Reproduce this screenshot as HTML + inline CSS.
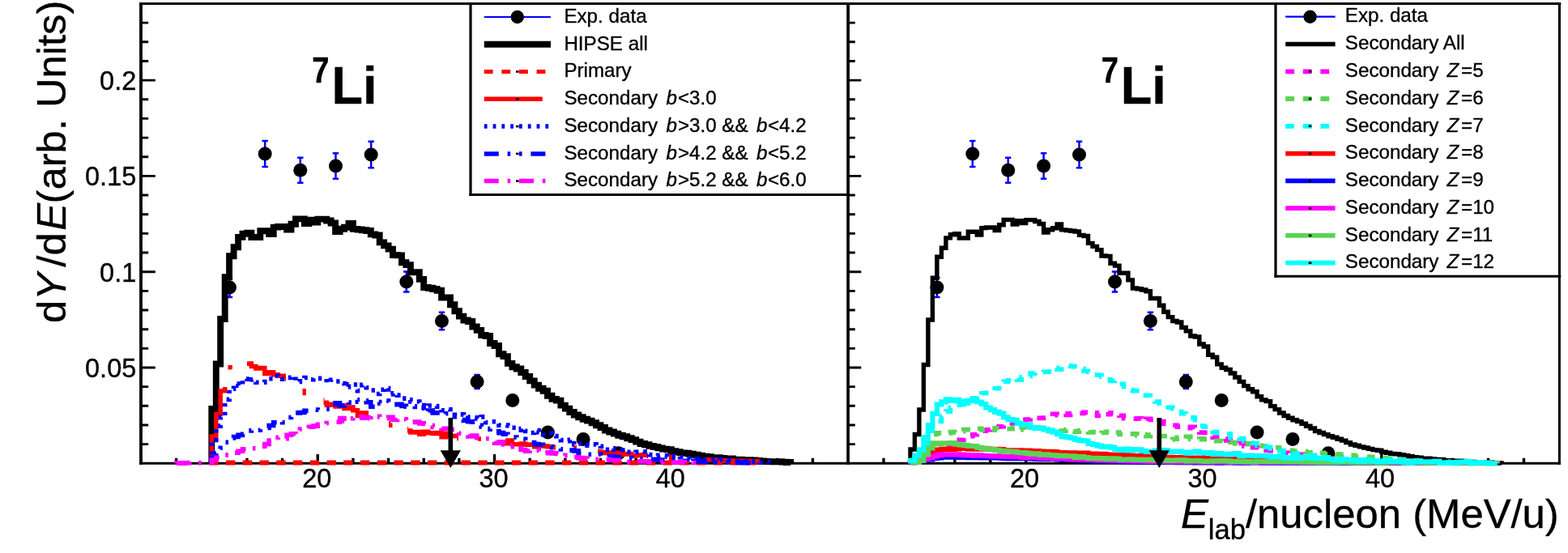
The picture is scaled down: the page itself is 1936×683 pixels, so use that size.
<!DOCTYPE html>
<html lang="en"><head><meta charset="utf-8"><title>7Li energy spectra</title>
<style>html,body{margin:0;padding:0;background:#fff;}svg{display:block;}</style></head>
<body>
<svg width="1936" height="683" viewBox="0 0 1936 683" font-family="&quot;Liberation Sans&quot;, Arial, Helvetica, sans-serif" fill="#000">
<style>text{stroke:#000;stroke-width:0.35px;stroke-linejoin:round}</style>
<rect x="0" y="0" width="1936" height="683" fill="#fff"/>
<g id="frames" fill="none" stroke="#000">
<path d="M172.1,4.5H1926.9M172.1,572.3H1926.9" stroke-width="3"/>
<path d="M174.0,3.0V573.8" stroke-width="3.8"/>
<path d="M1047.1,3.0V573.8" stroke-width="3.7"/>
<path d="M1925.4,3.0V573.8" stroke-width="3"/>
</g>
<g id="ticks">
<path d="M217.66,572.3v-6.6M261.31,572.3v-6.6M304.96,572.3v-6.6M348.62,572.3v-6.6M392.27,572.3v-11.3M435.93,572.3v-6.6M479.58,572.3v-6.6M523.24,572.3v-6.6M566.89,572.3v-6.6M610.55,572.3v-11.3M654.20,572.3v-6.6M697.86,572.3v-6.6M741.51,572.3v-6.6M785.17,572.3v-6.6M828.82,572.3v-11.3M872.48,572.3v-6.6M916.13,572.3v-6.6M959.79,572.3v-6.6M1003.44,572.3v-6.6" stroke="#000" stroke-width="3.4" fill="none"/>
<path d="M174.0,548.64h9.2M174.0,524.98h9.2M174.0,501.32h9.2M174.0,477.66h9.2M174.0,454.00h17.8M174.0,430.34h9.2M174.0,406.68h9.2M174.0,383.02h9.2M174.0,359.36h9.2M174.0,335.70h17.8M174.0,312.04h9.2M174.0,288.38h9.2M174.0,264.72h9.2M174.0,241.06h9.2M174.0,217.40h17.8M174.0,193.74h9.2M174.0,170.08h9.2M174.0,146.42h9.2M174.0,122.76h9.2M174.0,99.10h17.8M174.0,75.44h9.2M174.0,51.78h9.2M174.0,28.12h9.2" stroke="#000" stroke-width="2.9" fill="none"/>
<path d="M1091.01,572.3v-6.6M1134.93,572.3v-6.6M1178.84,572.3v-6.6M1222.76,572.3v-6.6M1266.67,572.3v-11.3M1310.59,572.3v-6.6M1354.50,572.3v-6.6M1398.42,572.3v-6.6M1442.34,572.3v-6.6M1486.25,572.3v-11.3M1530.16,572.3v-6.6M1574.08,572.3v-6.6M1617.99,572.3v-6.6M1661.91,572.3v-6.6M1705.83,572.3v-11.3M1749.74,572.3v-6.6M1793.65,572.3v-6.6M1837.57,572.3v-6.6M1881.49,572.3v-6.6" stroke="#000" stroke-width="3.4" fill="none"/>
<path d="M1047.1,548.64h8.7M1047.1,524.98h8.7M1047.1,501.32h8.7M1047.1,477.66h8.7M1047.1,454.00h16.2M1047.1,430.34h8.7M1047.1,406.68h8.7M1047.1,383.02h8.7M1047.1,359.36h8.7M1047.1,335.70h16.2M1047.1,312.04h8.7M1047.1,288.38h8.7M1047.1,264.72h8.7M1047.1,241.06h8.7M1047.1,217.40h16.2M1047.1,193.74h8.7M1047.1,170.08h8.7M1047.1,146.42h8.7M1047.1,122.76h8.7M1047.1,99.10h16.2M1047.1,75.44h8.7M1047.1,51.78h8.7M1047.1,28.12h8.7" stroke="#000" stroke-width="2.9" fill="none"/>
</g>
<g id="ticklabels" font-size="32.5">
<text x="168.3" y="466.0" text-anchor="end">0.05</text>
<text x="168.3" y="347.7" text-anchor="end">0.1</text>
<text x="168.3" y="229.4" text-anchor="end">0.15</text>
<text x="168.3" y="111.1" text-anchor="end">0.2</text>
<text x="391.3" y="602" text-anchor="middle">20</text>
<text x="609.5" y="602" text-anchor="middle">30</text>
<text x="827.8" y="602" text-anchor="middle">40</text>
<text x="1265.0" y="602" text-anchor="middle">20</text>
<text x="1484.5" y="602" text-anchor="middle">30</text>
<text x="1704.1" y="602" text-anchor="middle">40</text>
</g>
<g id="titles">
<text transform="translate(81.2,399) rotate(-90)" font-size="50.7">d<tspan font-style="italic">Y</tspan><tspan dx="7.3">/d</tspan><tspan font-style="italic" dx="2.7">E</tspan><tspan dx="-0.5">(arb. Units)</tspan></text>
<text x="1924.8" y="652.2" text-anchor="end" font-size="50.8"><tspan font-style="italic">E</tspan><tspan font-size="34.6" dy="14">lab</tspan><tspan dy="-14">/nucleon (MeV/u)</tspan></text>
</g>
<g id="labels">
<text transform="translate(385.3,102.2) scale(0.88,1)" font-weight="bold" font-size="43.5">7</text>
<text transform="translate(409.40000000000003,127.9) scale(0.98,1)" font-weight="bold" font-size="64.3">Li</text>
<text transform="translate(1359.7,102.2) scale(0.88,1)" font-weight="bold" font-size="43.5">7</text>
<text transform="translate(1383.8,127.9) scale(0.98,1)" font-weight="bold" font-size="64.3">Li</text>
</g>
<g id="left" fill="none" stroke-linejoin="miter">
<g>
<path d="M283.5,343.0V367.0M279.8,343.0h7.4M279.8,367.0h7.4" stroke="#0000ff" stroke-width="2.5" fill="none"/>
<circle cx="283.5" cy="355.0" r="8.5" fill="#000"/>
<path d="M327.2,174.0V206.0M323.5,174.0h7.4M323.5,206.0h7.4" stroke="#0000ff" stroke-width="2.5" fill="none"/>
<circle cx="327.2" cy="190.0" r="8.5" fill="#000"/>
<path d="M370.8,194.7V225.7M367.1,194.7h7.4M367.1,225.7h7.4" stroke="#0000ff" stroke-width="2.5" fill="none"/>
<circle cx="370.8" cy="210.2" r="8.5" fill="#000"/>
<path d="M414.5,189.2V220.8M410.8,189.2h7.4M410.8,220.8h7.4" stroke="#0000ff" stroke-width="2.5" fill="none"/>
<circle cx="414.5" cy="205.0" r="8.5" fill="#000"/>
<path d="M458.2,174.8V207.2M454.5,174.8h7.4M454.5,207.2h7.4" stroke="#0000ff" stroke-width="2.5" fill="none"/>
<circle cx="458.2" cy="191.0" r="8.5" fill="#000"/>
<path d="M501.8,335.5V360.5M498.1,335.5h7.4M498.1,360.5h7.4" stroke="#0000ff" stroke-width="2.5" fill="none"/>
<circle cx="501.8" cy="348.0" r="8.5" fill="#000"/>
<path d="M545.5,385.7V407.3M541.8,385.7h7.4M541.8,407.3h7.4" stroke="#0000ff" stroke-width="2.5" fill="none"/>
<circle cx="545.5" cy="396.5" r="8.5" fill="#000"/>
<path d="M589.1,463.0V480.0M585.4,463.0h7.4M585.4,480.0h7.4" stroke="#0000ff" stroke-width="2.5" fill="none"/>
<circle cx="589.1" cy="471.5" r="8.5" fill="#000"/>
<circle cx="632.8" cy="494.5" r="8.5" fill="#000"/>
<circle cx="676.4" cy="534.0" r="8.5" fill="#000"/>
<circle cx="720.1" cy="542.4" r="8.5" fill="#000"/>
<circle cx="763.7" cy="559.8" r="8.5" fill="#000"/>
</g>
<path d="M261.3,572.3V505.0H266.8V449.5H272.2V394.0H277.7V342.2H283.1V316.3H288.6V305.2H294.1V292.9H299.5V288.8H305.0V287.6H310.4V293.0H315.9V293.0H321.3V285.3H326.8V285.3H332.2V289.1H337.7V280.6H343.2V280.0H348.6V280.0H354.1V283.6H359.5V276.7H365.0V270.4H370.4V270.4H375.9V276.0H381.4V271.6H386.8V274.5H392.3V270.6H397.7V270.6H403.2V272.5H408.6V275.5H414.1V286.0H419.6V282.7H425.0V280.7H430.5V275.9H435.9V282.9H441.4V283.5H446.8V284.2H452.3V285.0H457.8V289.4H463.2V290.5H468.7V299.4H474.1V303.4H479.6V307.6H485.0V315.0H490.5V315.4H496.0V324.2H501.4V327.1H506.9V336.2H512.3V336.2H517.8V344.9H523.2V355.0H528.7V355.8H534.2V357.0H539.6V358.7H545.1V367.5H550.5V367.4H556.0V376.2H561.4V384.2H566.9V390.6H572.4V395.5H577.8V397.0H583.3V403.5H588.7V407.9H594.2V414.0H599.6V415.0H605.1V424.0H610.5V427.0H616.0V437.2H621.5V440.1H626.9V448.9H632.4V453.3H637.8V455.5H643.3V460.0H648.7V465.0H654.2V470.4H659.7V475.6H665.1V479.7H670.6V482.7H676.0V488.8H681.5V492.9H686.9V494.6H692.4V500.6H697.9V504.6H703.3V509.0H708.8V512.5H714.2V515.2H719.7V517.8H725.1V519.6H730.6V522.2H736.1V525.2H741.5V528.0H747.0V531.5H752.4V533.5H757.9V535.6H763.3V537.7H768.8V539.3H774.3V541.2H779.7V543.1H785.2V545.6H790.6V548.0H796.1V549.2H801.5V550.9H807.0V552.0H812.5V553.4H817.9V554.6H823.4V555.2H828.8V557.2H834.3V558.2H839.7V559.4H845.2V559.8H850.7V560.7H856.1V561.8H861.6V562.8H867.0V563.8H872.5V564.3H877.9V565.1H883.4V565.3H888.9V566.0H894.3V566.4H899.8V566.4H905.2V567.6H910.7V567.6H916.1V568.3H921.6V568.1H927.0V568.5H932.5V569.0H938.0V569.4H943.4V569.9H948.9V570.1H954.3V570.2H959.8V570.2H965.2V570.6H970.7V571.0H976.2V572.3" stroke="#000" stroke-width="7.9"/>
<path d="M258.25,571.6H940" stroke="#ff0000" stroke-width="6" stroke-dasharray="11.4 9.35"/>
<clipPath id="redclip">
<rect x="255" y="478" width="26" height="97"/>
<rect x="281.5" y="451" width="5.5" height="5.5"/>
<rect x="305" y="440" width="48" height="32"/>
<rect x="373.5" y="480" width="4.5" height="9"/>
<rect x="399.5" y="490" width="56.5" height="30"/>
<rect x="480" y="519" width="4.5" height="9"/>
<rect x="503" y="526" width="63" height="19"/>
<rect x="590" y="538" width="4" height="10"/>
<rect x="622" y="540" width="64" height="18"/>
<rect x="708" y="550" width="4" height="10"/>
<rect x="738" y="550" width="62" height="18"/>
<rect x="826" y="560" width="4" height="10"/>
<rect x="871" y="562" width="67" height="13"/>
</clipPath>
<path d="M261.3,572.3V538.9H266.8V511.5H272.2V482.8H277.7V469.7H283.1V453.0H288.6V450.2H294.1V453.2H299.5V449.2H305.0V448.9H310.4V452.4H315.9V454.9H321.3V454.6H326.8V461.4H332.2V459.8H337.7V462.7H343.2V464.2H348.6V464.2H354.1V467.9H359.5V471.7H365.0V478.5H370.4V482.6H375.9V485.6H381.4V489.0H386.8V489.2H392.3V494.1H397.7V497.3H403.2V500.2H408.6V499.3H414.1V501.9H419.6V500.7H425.0V504.5H430.5V503.1H435.9V506.7H441.4V513.5H446.8V509.9H452.3V515.6H457.8V516.7H463.2V517.7H468.7V520.7H474.1V522.7H479.6V525.3H485.0V525.8H490.5V527.7H496.0V530.0H501.4V531.9H506.9V533.9H512.3V533.5H517.8V536.3H523.2V533.2H528.7V534.7H534.2V535.4H539.6V534.5H545.1V539.8H550.5V535.2H556.0V538.2H561.4V538.5H566.9V541.6H572.4V538.1H577.8V542.2H583.3V540.8H588.7V542.0H594.2V542.1H599.6V544.1H605.1V542.9H610.5V544.6H616.0V545.7H621.5V547.8H626.9V544.1H632.4V548.7H637.8V548.7H643.3V547.9H648.7V549.2H654.2V549.1H659.7V551.7H665.1V550.9H670.6V551.1H676.0V551.7H681.5V552.3H686.9V552.9H692.4V552.8H697.9V555.9H703.3V553.1H708.8V552.2H714.2V555.6H719.7V556.2H725.1V557.1H730.6V557.2H736.1V557.8H741.5V558.6H747.0V559.5H752.4V558.9H757.9V559.5H763.3V561.5H768.8V561.0H774.3V560.4H779.7V563.1H785.2V562.5H790.6V562.1H796.1V562.2H801.5V563.5H807.0V563.2H812.5V563.4H817.9V563.7H823.4V564.5H828.8V565.7H834.3V565.3H839.7V565.1H845.2V566.6H850.7V566.7H856.1V567.4H861.6V567.9H867.0V567.7H872.5V568.0H877.9V568.2H883.4V568.0H888.9V568.8H894.3V569.3H899.8V569.0H905.2V569.0H910.7V569.2H916.1V569.2H921.6V569.4H927.0V569.7H932.5V569.8H938.0V572.3" stroke="#ff0000" stroke-width="5.5" clip-path="url(#redclip)"/>
<path d="M261.3,572.3V543.5H266.8V526.1H272.2V515.3H277.7V493.4H283.1V480.3H288.6V474.0H294.1V476.2H299.5V468.0H305.0V471.8H310.4V468.9H315.9V472.3H321.3V472.1H326.8V467.8H332.2V467.7H337.7V464.3H343.2V466.0H348.6V468.1H354.1V466.4H359.5V465.1H365.0V471.5H370.4V467.4H375.9V466.5H381.4V468.8H386.8V467.2H392.3V467.4H397.7V467.4H403.2V472.5H408.6V469.2H414.1V471.0H419.6V473.6H425.0V478.0H430.5V474.6H435.9V475.0H441.4V482.6H446.8V475.4H452.3V478.8H457.8V482.0H463.2V486.5H468.7V481.2H474.1V479.5H479.6V487.0H485.0V485.9H490.5V488.1H496.0V492.1H501.4V493.9H506.9V496.0H512.3V496.0H517.8V500.6H523.2V502.4H528.7V501.0H534.2V501.6H539.6V505.4H545.1V506.7H550.5V505.7H556.0V508.4H561.4V512.4H566.9V511.9H572.4V512.9H577.8V515.1H583.3V515.7H588.7V516.9H594.2V514.9H599.6V521.8H605.1V520.7H610.5V520.7H616.0V525.1H621.5V525.1H626.9V525.7H632.4V528.3H637.8V531.1H643.3V529.6H648.7V532.4H654.2V534.5H659.7V531.5H665.1V533.6H670.6V536.7H676.0V535.1H681.5V538.6H686.9V542.2H692.4V543.6H697.9V544.7H703.3V543.2H708.8V549.0H714.2V548.0H719.7V549.3H725.1V550.1H730.6V548.9H736.1V550.2H741.5V551.4H747.0V555.4H752.4V553.9H757.9V555.4H763.3V556.1H768.8V557.6H774.3V558.2H779.7V558.8H785.2V558.4H790.6V557.7H796.1V561.0H801.5V561.6H807.0V562.8H812.5V562.4H817.9V562.7H823.4V563.9H828.8V563.2H834.3V564.1H839.7V564.7H845.2V566.0H850.7V567.3H856.1V566.9H861.6V567.4H867.0V567.3H872.5V567.6H877.9V567.6H883.4V568.0H888.9V567.5H894.3V568.3H899.8V568.6H905.2V569.6H910.7V569.8H916.1V570.1H921.6V570.5H927.0V570.1H932.5V570.7H938.0V571.2H943.4V570.8H948.9V572.3" stroke="#0000ff" stroke-width="5.6" stroke-dasharray="4.3 6.5"/>
<path d="M261.3,572.3V565.3H266.8V560.0H272.2V553.3H277.7V546.3H283.1V540.9H288.6V539.5H294.1V537.4H299.5V536.3H305.0V531.9H310.4V530.2H315.9V531.3H321.3V529.3H326.8V528.5H332.2V525.5H337.7V521.7H343.2V519.5H348.6V521.7H354.1V515.5H359.5V512.7H365.0V509.9H370.4V509.5H375.9V507.4H381.4V506.0H386.8V506.1H392.3V506.2H397.7V505.8H403.2V505.2H408.6V502.5H414.1V497.9H419.6V500.9H425.0V496.1H430.5V497.1H435.9V493.7H441.4V496.1H446.8V494.9H452.3V496.8H457.8V502.3H463.2V496.6H468.7V498.3H474.1V495.1H479.6V497.4H485.0V499.6H490.5V499.3H496.0V501.4H501.4V502.3H506.9V501.8H512.3V505.7H517.8V504.5H523.2V509.8H528.7V507.0H534.2V509.9H539.6V509.8H545.1V512.2H550.5V510.8H556.0V514.4H561.4V514.6H566.9V518.6H572.4V519.5H577.8V520.7H583.3V521.3H588.7V525.4H594.2V526.9H599.6V530.3H605.1V529.6H610.5V532.7H616.0V534.6H621.5V536.3H626.9V538.1H632.4V540.0H637.8V541.1H643.3V542.4H648.7V544.3H654.2V546.5H659.7V548.6H665.1V549.3H670.6V550.6H676.0V551.5H681.5V552.6H686.9V553.4H692.4V554.9H697.9V556.8H703.3V556.1H708.8V556.9H714.2V559.9H719.7V559.7H725.1V561.3H730.6V561.9H736.1V561.1H741.5V564.0H747.0V564.1H752.4V563.6H757.9V564.5H763.3V564.7H768.8V564.7H774.3V565.6H779.7V566.3H785.2V566.9H790.6V567.0H796.1V567.0H801.5V567.8H807.0V567.2H812.5V568.1H817.9V568.5H823.4V568.2H828.8V567.9H834.3V568.5H839.7V569.2H845.2V569.6H850.7V570.1H856.1V569.4H861.6V569.9H867.0V570.2H872.5V570.1H877.9V569.6H883.4V570.6H888.9V571.2H894.3V570.9H899.8V570.6H905.2V570.9H910.7V571.1H916.1V571.7H921.6V571.5H927.0V571.5H932.5V572.3" stroke="#0000ff" stroke-width="5.6" stroke-dasharray="18 10.8 3.6 10.8 3.6 10.8"/>
<path d="M217.7,572.3V571.9H223.1V572.1H228.6V571.7H234.0V571.5H239.5V571.8H244.9V571.8H250.4V571.7H255.9V571.6H261.3V568.1H266.8V565.3H272.2V563.3H277.7V561.9H283.1V560.0H288.6V559.2H294.1V557.3H299.5V554.8H305.0V555.5H310.4V553.7H315.9V552.8H321.3V551.3H326.8V548.5H332.2V544.1H337.7V544.7H343.2V540.2H348.6V541.8H354.1V537.2H359.5V535.8H365.0V536.5H370.4V530.1H375.9V530.5H381.4V527.2H386.8V526.1H392.3V524.4H397.7V525.1H403.2V522.5H408.6V522.1H414.1V521.3H419.6V516.5H425.0V520.0H430.5V516.7H435.9V513.8H441.4V514.5H446.8V516.1H452.3V515.5H457.8V512.8H463.2V514.4H468.7V515.0H474.1V516.6H479.6V515.2H485.0V518.5H490.5V516.6H496.0V517.7H501.4V520.5H506.9V521.4H512.3V521.1H517.8V522.9H523.2V523.5H528.7V525.6H534.2V527.4H539.6V527.8H545.1V529.5H550.5V529.2H556.0V530.4H561.4V529.9H566.9V535.3H572.4V536.6H577.8V539.0H583.3V538.0H588.7V540.8H594.2V541.9H599.6V541.7H605.1V545.7H610.5V547.2H616.0V545.8H621.5V548.9H626.9V551.6H632.4V550.2H637.8V553.6H643.3V555.5H648.7V557.1H654.2V555.3H659.7V556.4H665.1V558.2H670.6V559.8H676.0V558.7H681.5V559.9H686.9V560.5H692.4V562.7H697.9V562.4H703.3V563.8H708.8V564.6H714.2V565.6H719.7V566.0H725.1V566.4H730.6V567.2H736.1V567.2H741.5V566.7H747.0V567.4H752.4V568.4H757.9V568.4H763.3V568.5H768.8V569.1H774.3V570.5H779.7V569.6H785.2V569.9H790.6V570.0H796.1V569.9H801.5V570.5H807.0V570.5H812.5V570.5H817.9V570.2H823.4V571.0H828.8V571.0H834.3V571.0H839.7V570.5H845.2V571.3H850.7V571.1H856.1V571.4H861.6V571.4H867.0V572.3" stroke="#ff00ff" stroke-width="5.6" stroke-dasharray="18 10.8 3.6 10.8"/>
</g>
<g id="right" fill="none">
<g>
<path d="M1156.9,343.0V367.0M1153.2,343.0h7.4M1153.2,367.0h7.4" stroke="#0000ff" stroke-width="2.5" fill="none"/>
<circle cx="1156.9" cy="355.0" r="8.5" fill="#000"/>
<path d="M1200.8,174.0V206.0M1197.1,174.0h7.4M1197.1,206.0h7.4" stroke="#0000ff" stroke-width="2.5" fill="none"/>
<circle cx="1200.8" cy="190.0" r="8.5" fill="#000"/>
<path d="M1244.7,194.7V225.7M1241.0,194.7h7.4M1241.0,225.7h7.4" stroke="#0000ff" stroke-width="2.5" fill="none"/>
<circle cx="1244.7" cy="210.2" r="8.5" fill="#000"/>
<path d="M1288.6,189.2V220.8M1284.9,189.2h7.4M1284.9,220.8h7.4" stroke="#0000ff" stroke-width="2.5" fill="none"/>
<circle cx="1288.6" cy="205.0" r="8.5" fill="#000"/>
<path d="M1332.5,174.8V207.2M1328.8,174.8h7.4M1328.8,207.2h7.4" stroke="#0000ff" stroke-width="2.5" fill="none"/>
<circle cx="1332.5" cy="191.0" r="8.5" fill="#000"/>
<path d="M1376.5,335.5V360.5M1372.8,335.5h7.4M1372.8,360.5h7.4" stroke="#0000ff" stroke-width="2.5" fill="none"/>
<circle cx="1376.5" cy="348.0" r="8.5" fill="#000"/>
<path d="M1420.4,385.7V407.3M1416.7,385.7h7.4M1416.7,407.3h7.4" stroke="#0000ff" stroke-width="2.5" fill="none"/>
<circle cx="1420.4" cy="396.5" r="8.5" fill="#000"/>
<path d="M1464.3,463.0V480.0M1460.6,463.0h7.4M1460.6,480.0h7.4" stroke="#0000ff" stroke-width="2.5" fill="none"/>
<circle cx="1464.3" cy="471.5" r="8.5" fill="#000"/>
<circle cx="1508.2" cy="494.5" r="8.5" fill="#000"/>
<circle cx="1552.1" cy="534.0" r="8.5" fill="#000"/>
<circle cx="1596.0" cy="542.4" r="8.5" fill="#000"/>
<circle cx="1640.0" cy="559.8" r="8.5" fill="#000"/>
</g>
<path d="M1124.0,572.3V555.0H1129.4V536.5H1134.9V506.0H1140.4V450.5H1145.9V395.0H1151.4V343.2H1156.9V317.3H1162.4V306.2H1167.9V293.9H1173.4V289.8H1178.8V288.6H1184.3V294.0H1189.8V294.0H1195.3V286.3H1200.8V286.3H1206.3V290.1H1211.8V281.6H1217.3V281.0H1222.8V281.0H1228.2V284.6H1233.7V277.7H1239.2V271.4H1244.7V271.4H1250.2V277.0H1255.7V272.6H1261.2V275.5H1266.7V271.6H1272.2V271.6H1277.7V273.5H1283.1V276.5H1288.6V287.0H1294.1V283.7H1299.6V281.7H1305.1V276.9H1310.6V283.9H1316.1V284.5H1321.6V285.2H1327.1V286.0H1332.5V290.4H1338.0V291.5H1343.5V300.4H1349.0V304.4H1354.5V308.6H1360.0V316.0H1365.5V316.4H1371.0V325.2H1376.5V328.1H1382.0V337.2H1387.4V337.2H1392.9V345.9H1398.4V356.0H1403.9V356.8H1409.4V358.0H1414.9V359.7H1420.4V368.5H1425.9V368.4H1431.4V377.2H1436.8V385.2H1442.3V391.6H1447.8V396.5H1453.3V398.0H1458.8V404.5H1464.3V408.9H1469.8V415.0H1475.3V416.0H1480.8V425.0H1486.2V428.0H1491.7V438.2H1497.2V441.1H1502.7V449.9H1508.2V454.3H1513.7V456.5H1519.2V461.0H1524.7V466.0H1530.2V471.4H1535.7V476.6H1541.1V480.7H1546.6V483.7H1552.1V489.8H1557.6V493.9H1563.1V495.6H1568.6V501.6H1574.1V505.6H1579.6V510.0H1585.1V513.5H1590.5V516.2H1596.0V518.8H1601.5V520.6H1607.0V523.2H1612.5V526.2H1618.0V529.0H1623.5V532.5H1629.0V534.5H1634.5V536.6H1640.0V538.7H1645.4V540.3H1650.9V542.2H1656.4V544.1H1661.9V546.6H1667.4V549.0H1672.9V550.2H1678.4V551.9H1683.9V553.0H1689.4V554.4H1694.8V555.6H1700.3V556.2H1705.8V558.2H1711.3V559.2H1716.8V560.4H1722.3V560.8H1727.8V561.7H1733.3V562.8H1738.8V563.8H1744.3V564.8H1749.7V565.3H1755.2V566.1H1760.7V566.3H1766.2V567.0H1771.7V567.4H1777.2V567.4H1782.7V568.6H1788.2V568.6H1793.7V569.3H1799.1V569.1H1804.6V569.5H1810.1V570.0H1815.6V570.4H1821.1V570.9H1826.6V571.1H1832.1V571.2H1837.6V571.2H1843.1V571.6H1848.5V572.0H1854.0V572.3" stroke="#000" stroke-width="5.4"/>
<path d="M1124.0,572.3V571.3H1129.4V570.3H1134.9V568.5H1140.4V567.2H1145.9V566.5H1151.4V564.2H1156.9V560.0H1162.4V555.4H1167.9V552.1H1173.4V549.4H1178.8V547.1H1184.3V543.2H1189.8V540.7H1195.3V538.7H1200.8V536.8H1206.3V533.7H1211.8V532.3H1217.3V530.8H1222.8V530.7H1228.2V527.2H1233.7V526.7H1239.2V522.8H1244.7V523.4H1250.2V521.2H1255.7V519.0H1261.2V518.2H1266.7V518.0H1272.2V515.2H1277.7V516.4H1283.1V516.4H1288.6V516.0H1294.1V515.4H1299.6V511.3H1305.1V512.7H1310.6V510.9H1316.1V512.4H1321.6V510.8H1327.1V510.4H1332.5V510.5H1338.0V509.4H1343.5V510.5H1349.0V509.7H1354.5V513.5H1360.0V510.5H1365.5V511.7H1371.0V509.9H1376.5V510.8H1382.0V513.3H1387.4V516.8H1392.9V517.3H1398.4V517.3H1403.9V516.7H1409.4V520.2H1414.9V517.3H1420.4V518.5H1425.9V521.2H1431.4V520.6H1436.8V523.2H1442.3V525.1H1447.8V525.2H1453.3V527.1H1458.8V528.0H1464.3V528.6H1469.8V527.4H1475.3V530.9H1480.8V534.1H1486.2V534.4H1491.7V537.4H1497.2V540.1H1502.7V543.1H1508.2V542.0H1513.7V544.0H1519.2V546.0H1524.7V547.5H1530.2V547.3H1535.7V551.0H1541.1V550.1H1546.6V552.6H1552.1V552.8H1557.6V554.4H1563.1V556.3H1568.6V556.8H1574.1V557.6H1579.6V558.0H1585.1V559.4H1590.5V560.1H1596.0V562.6H1601.5V561.3H1607.0V561.4H1612.5V564.1H1618.0V564.5H1623.5V564.4H1629.0V565.5H1634.5V565.4H1640.0V566.0H1645.4V566.8H1650.9V567.1H1656.4V567.1H1661.9V568.2H1667.4V568.3H1672.9V568.4H1678.4V568.4H1683.9V569.2H1689.4V569.4H1694.8V569.8H1700.3V570.3H1705.8V570.1H1711.3V570.4H1716.8V570.7H1722.3V570.7H1727.8V571.2H1733.3V570.6H1738.8V571.0H1744.3V571.0H1749.7V571.3H1755.2V571.8H1760.7V571.4H1766.2V571.7H1771.7V571.9H1777.2V572.0H1782.7V572.3" stroke="#ff00ff" stroke-width="5.6" stroke-dasharray="10.8 10.8"/>
<path d="M1124.0,572.3V568.5H1129.4V562.7H1134.9V557.7H1140.4V545.8H1145.9V539.8H1151.4V536.5H1156.9V534.9H1162.4V534.2H1167.9V535.0H1173.4V533.5H1178.8V534.3H1184.3V532.7H1189.8V530.6H1195.3V530.7H1200.8V530.8H1206.3V529.2H1211.8V530.9H1217.3V530.3H1222.8V531.3H1228.2V528.8H1233.7V529.1H1239.2V529.7H1244.7V529.7H1250.2V527.7H1255.7V530.6H1261.2V528.2H1266.7V530.3H1272.2V528.7H1277.7V528.7H1283.1V528.0H1288.6V529.4H1294.1V532.5H1299.6V529.2H1305.1V532.0H1310.6V532.1H1316.1V530.5H1321.6V532.5H1327.1V533.2H1332.5V531.7H1338.0V531.8H1343.5V534.0H1349.0V533.6H1354.5V536.0H1360.0V534.5H1365.5V533.2H1371.0V534.8H1376.5V534.0H1382.0V536.5H1387.4V536.8H1392.9V535.9H1398.4V535.7H1403.9V537.9H1409.4V536.9H1414.9V538.8H1420.4V537.1H1425.9V538.4H1431.4V538.6H1436.8V538.7H1442.3V543.0H1447.8V542.3H1453.3V540.2H1458.8V541.8H1464.3V539.4H1469.8V542.5H1475.3V542.6H1480.8V541.9H1486.2V542.6H1491.7V543.8H1497.2V544.7H1502.7V544.6H1508.2V544.7H1513.7V545.8H1519.2V546.2H1524.7V547.9H1530.2V547.8H1535.7V548.6H1541.1V547.7H1546.6V549.6H1552.1V550.3H1557.6V551.0H1563.1V552.1H1568.6V552.8H1574.1V552.8H1579.6V555.5H1585.1V556.4H1590.5V556.2H1596.0V557.6H1601.5V557.1H1607.0V557.4H1612.5V558.7H1618.0V560.3H1623.5V559.7H1629.0V559.2H1634.5V560.6H1640.0V560.5H1645.4V560.8H1650.9V561.8H1656.4V561.1H1661.9V561.5H1667.4V562.2H1672.9V564.0H1678.4V564.0H1683.9V564.0H1689.4V564.4H1694.8V565.4H1700.3V566.0H1705.8V565.5H1711.3V566.3H1716.8V567.6H1722.3V567.2H1727.8V567.2H1733.3V567.9H1738.8V568.1H1744.3V568.6H1749.7V568.8H1755.2V568.8H1760.7V569.2H1766.2V569.6H1771.7V569.5H1777.2V570.0H1782.7V570.1H1788.2V570.8H1793.7V571.2H1799.1V570.9H1804.6V571.3H1810.1V571.3H1815.6V571.4H1821.1V571.5H1826.6V571.6H1832.1V571.9H1837.6V571.7H1843.1V572.1H1848.5V572.3" stroke="#59d454" stroke-width="5.6" stroke-dasharray="10.8 10.8"/>
<path d="M1124.0,572.3V569.0H1129.4V562.2H1134.9V557.5H1140.4V548.2H1145.9V536.1H1151.4V526.8H1156.9V520.4H1162.4V514.2H1167.9V508.1H1173.4V503.4H1178.8V500.3H1184.3V499.6H1189.8V496.7H1195.3V494.2H1200.8V491.8H1206.3V488.7H1211.8V485.7H1217.3V485.2H1222.8V482.1H1228.2V479.8H1233.7V476.8H1239.2V471.2H1244.7V469.7H1250.2V467.3H1255.7V469.3H1261.2V465.7H1266.7V464.5H1272.2V461.1H1277.7V459.4H1283.1V459.4H1288.6V459.2H1294.1V459.0H1299.6V454.4H1305.1V456.2H1310.6V452.4H1316.1V451.7H1321.6V452.5H1327.1V452.8H1332.5V455.6H1338.0V458.3H1343.5V459.3H1349.0V459.7H1354.5V463.3H1360.0V465.3H1365.5V468.8H1371.0V470.5H1376.5V470.0H1382.0V474.2H1387.4V477.4H1392.9V481.9H1398.4V482.7H1403.9V486.8H1409.4V488.3H1414.9V488.5H1420.4V492.8H1425.9V496.0H1431.4V498.3H1436.8V498.1H1442.3V503.3H1447.8V504.6H1453.3V505.7H1458.8V510.7H1464.3V512.0H1469.8V515.9H1475.3V522.1H1480.8V526.0H1486.2V527.2H1491.7V529.3H1497.2V533.6H1502.7V534.7H1508.2V535.4H1513.7V535.9H1519.2V541.0H1524.7V540.0H1530.2V541.5H1535.7V545.0H1541.1V547.0H1546.6V547.5H1552.1V550.3H1557.6V550.8H1563.1V552.3H1568.6V553.9H1574.1V554.7H1579.6V556.6H1585.1V559.4H1590.5V558.8H1596.0V560.3H1601.5V561.3H1607.0V561.5H1612.5V562.5H1618.0V562.4H1623.5V563.8H1629.0V564.8H1634.5V566.1H1640.0V566.5H1645.4V566.3H1650.9V566.5H1656.4V567.9H1661.9V567.9H1667.4V567.3H1672.9V568.2H1678.4V568.4H1683.9V568.9H1689.4V569.0H1694.8V569.7H1700.3V569.9H1705.8V570.1H1711.3V570.6H1716.8V570.5H1722.3V570.4H1727.8V570.4H1733.3V570.8H1738.8V571.2H1744.3V571.3H1749.7V571.2H1755.2V571.6H1760.7V571.6H1766.2V571.6H1771.7V571.9H1777.2V572.0H1782.7V572.3" stroke="#00ffff" stroke-width="5.6" stroke-dasharray="10.8 10.8"/>
<path d="M1124.0,572.3V570.4H1129.4V568.0H1134.9V566.2H1140.4V563.5H1145.9V559.1H1151.4V557.1H1156.9V555.5H1162.4V554.9H1167.9V554.7H1173.4V554.8H1178.8V554.4H1184.3V554.0H1189.8V554.0H1195.3V554.7H1200.8V554.7H1206.3V554.6H1211.8V553.9H1217.3V554.7H1222.8V555.0H1228.2V554.9H1233.7V555.2H1239.2V556.3H1244.7V556.3H1250.2V556.4H1255.7V556.4H1261.2V556.5H1266.7V556.7H1272.2V557.2H1277.7V557.1H1283.1V557.5H1288.6V558.3H1294.1V557.8H1299.6V558.2H1305.1V559.2H1310.6V559.1H1316.1V559.3H1321.6V559.4H1327.1V559.5H1332.5V560.4H1338.0V559.7H1343.5V560.7H1349.0V560.7H1354.5V561.0H1360.0V560.8H1365.5V561.7H1371.0V561.9H1376.5V562.0H1382.0V562.3H1387.4V562.1H1392.9V562.7H1398.4V563.0H1403.9V563.1H1409.4V562.7H1414.9V563.6H1420.4V563.9H1425.9V563.9H1431.4V564.3H1436.8V564.8H1442.3V564.8H1447.8V565.3H1453.3V565.1H1458.8V565.2H1464.3V565.6H1469.8V565.5H1475.3V565.5H1480.8V566.1H1486.2V566.2H1491.7V566.4H1497.2V566.3H1502.7V566.6H1508.2V566.9H1513.7V566.9H1519.2V567.1H1524.7V567.4H1530.2V567.4H1535.7V567.7H1541.1V567.6H1546.6V568.1H1552.1V568.5H1557.6V568.3H1563.1V568.3H1568.6V568.2H1574.1V568.4H1579.6V568.6H1585.1V568.6H1590.5V568.9H1596.0V569.0H1601.5V569.2H1607.0V569.2H1612.5V569.4H1618.0V569.6H1623.5V569.4H1629.0V569.6H1634.5V569.7H1640.0V569.8H1645.4V570.1H1650.9V570.0H1656.4V570.1H1661.9V570.2H1667.4V570.3H1672.9V570.5H1678.4V570.7H1683.9V570.7H1689.4V570.8H1694.8V570.9H1700.3V570.9H1705.8V571.1H1711.3V571.1H1716.8V571.2H1722.3V571.2H1727.8V571.3H1733.3V571.2H1738.8V571.3H1744.3V571.3H1749.7V571.3H1755.2V571.4H1760.7V571.5H1766.2V571.5H1771.7V571.6H1777.2V571.6H1782.7V571.5H1788.2V571.6H1793.7V571.8H1799.1V571.7H1804.6V571.7H1810.1V571.7H1815.6V571.8H1821.1V571.9H1826.6V571.8H1832.1V571.9H1837.6V572.0H1843.1V571.9H1848.5V572.3" stroke="#ff0000" stroke-width="6.2"/>
<path d="M1124.0,572.3V571.2H1129.4V570.4H1134.9V569.4H1140.4V568.3H1145.9V567.4H1151.4V566.0H1156.9V565.4H1162.4V564.7H1167.9V564.3H1173.4V564.6H1178.8V564.4H1184.3V564.8H1189.8V565.0H1195.3V565.1H1200.8V565.1H1206.3V565.0H1211.8V565.3H1217.3V565.2H1222.8V565.5H1228.2V565.5H1233.7V565.6H1239.2V565.9H1244.7V566.1H1250.2V566.2H1255.7V566.1H1261.2V566.2H1266.7V566.2H1272.2V566.4H1277.7V566.6H1283.1V566.8H1288.6V566.8H1294.1V566.9H1299.6V567.0H1305.1V567.3H1310.6V567.7H1316.1V567.9H1321.6V568.0H1327.1V568.2H1332.5V568.4H1338.0V568.6H1343.5V568.7H1349.0V569.1H1354.5V569.1H1360.0V569.4H1365.5V569.5H1371.0V569.7H1376.5V570.0H1382.0V570.1H1387.4V570.2H1392.9V570.4H1398.4V570.4H1403.9V570.6H1409.4V570.6H1414.9V570.6H1420.4V570.7H1425.9V570.8H1431.4V570.8H1436.8V570.9H1442.3V571.0H1447.8V571.0H1453.3V571.1H1458.8V571.2H1464.3V571.2H1469.8V571.2H1475.3V571.3H1480.8V571.4H1486.2V571.4H1491.7V571.4H1497.2V571.5H1502.7V571.6H1508.2V571.5H1513.7V571.5H1519.2V571.5H1524.7V571.6H1530.2V571.5H1535.7V571.6H1541.1V571.5H1546.6V571.5H1552.1V571.5H1557.6V571.7H1563.1V571.6H1568.6V571.6H1574.1V571.5H1579.6V571.7H1585.1V571.6H1590.5V571.6H1596.0V571.6H1601.5V571.6H1607.0V571.7H1612.5V571.7H1618.0V571.7H1623.5V571.7H1629.0V571.7H1634.5V571.6H1640.0V571.8H1645.4V571.7H1650.9V571.8H1656.4V571.8H1661.9V571.7H1667.4V571.8H1672.9V571.7H1678.4V571.7H1683.9V571.7H1689.4V571.8H1694.8V571.8H1700.3V571.8H1705.8V571.8H1711.3V571.8H1716.8V571.9H1722.3V571.8H1727.8V571.8H1733.3V571.8H1738.8V571.8H1744.3V571.8H1749.7V571.9H1755.2V571.9H1760.7V571.9H1766.2V571.9H1771.7V571.9H1777.2V571.9H1782.7V571.9H1788.2V571.9H1793.7V571.9H1799.1V571.9H1804.6V571.9H1810.1V572.0H1815.6V571.9H1821.1V572.0H1826.6V572.0H1832.1V572.0H1837.6V572.0H1843.1V572.0H1848.5V572.3" stroke="#0000ff" stroke-width="6.2"/>
<path d="M1124.0,572.3V571.1H1129.4V569.8H1134.9V568.6H1140.4V567.1H1145.9V565.3H1151.4V563.4H1156.9V562.2H1162.4V561.3H1167.9V561.3H1173.4V561.3H1178.8V561.4H1184.3V561.6H1189.8V562.2H1195.3V562.2H1200.8V562.6H1206.3V562.4H1211.8V562.8H1217.3V563.0H1222.8V563.3H1228.2V563.3H1233.7V563.7H1239.2V563.9H1244.7V564.2H1250.2V563.9H1255.7V564.2H1261.2V564.8H1266.7V565.2H1272.2V565.1H1277.7V565.2H1283.1V565.7H1288.6V565.8H1294.1V566.0H1299.6V566.4H1305.1V566.5H1310.6V566.5H1316.1V566.9H1321.6V567.3H1327.1V567.4H1332.5V567.7H1338.0V567.7H1343.5V568.0H1349.0V568.0H1354.5V568.3H1360.0V568.3H1365.5V568.3H1371.0V568.6H1376.5V568.7H1382.0V568.9H1387.4V568.8H1392.9V569.1H1398.4V569.3H1403.9V569.4H1409.4V569.4H1414.9V569.7H1420.4V569.8H1425.9V569.9H1431.4V570.0H1436.8V570.1H1442.3V570.3H1447.8V570.2H1453.3V570.4H1458.8V570.4H1464.3V570.5H1469.8V570.5H1475.3V570.5H1480.8V570.6H1486.2V570.7H1491.7V570.7H1497.2V570.5H1502.7V570.7H1508.2V570.7H1513.7V570.6H1519.2V570.8H1524.7V570.7H1530.2V570.7H1535.7V570.8H1541.1V570.8H1546.6V570.8H1552.1V570.9H1557.6V570.9H1563.1V570.7H1568.6V570.9H1574.1V570.8H1579.6V570.9H1585.1V570.9H1590.5V571.0H1596.0V571.0H1601.5V571.0H1607.0V571.1H1612.5V571.1H1618.0V571.1H1623.5V571.2H1629.0V571.2H1634.5V571.2H1640.0V571.2H1645.4V571.2H1650.9V571.2H1656.4V571.2H1661.9V571.2H1667.4V571.2H1672.9V571.4H1678.4V571.3H1683.9V571.2H1689.4V571.4H1694.8V571.4H1700.3V571.4H1705.8V571.4H1711.3V571.5H1716.8V571.5H1722.3V571.5H1727.8V571.5H1733.3V571.6H1738.8V571.5H1744.3V571.5H1749.7V571.6H1755.2V571.7H1760.7V571.6H1766.2V571.6H1771.7V571.7H1777.2V571.7H1782.7V571.8H1788.2V571.8H1793.7V571.8H1799.1V571.8H1804.6V571.9H1810.1V571.9H1815.6V571.9H1821.1V571.9H1826.6V571.9H1832.1V571.9H1837.6V572.0H1843.1V572.0H1848.5V572.3" stroke="#ff00ff" stroke-width="6.2"/>
<path d="M1124.0,572.3V571.1H1129.4V571.0H1134.9V568.8H1140.4V561.5H1145.9V553.4H1151.4V547.4H1156.9V548.5H1162.4V547.4H1167.9V547.5H1173.4V547.2H1178.8V548.4H1184.3V549.4H1189.8V550.2H1195.3V550.8H1200.8V551.0H1206.3V552.9H1211.8V553.8H1217.3V554.6H1222.8V555.1H1228.2V555.9H1233.7V556.9H1239.2V557.3H1244.7V557.5H1250.2V557.9H1255.7V559.0H1261.2V559.1H1266.7V559.9H1272.2V560.6H1277.7V560.4H1283.1V561.7H1288.6V561.4H1294.1V562.0H1299.6V562.4H1305.1V563.1H1310.6V562.8H1316.1V563.4H1321.6V563.3H1327.1V564.9H1332.5V564.1H1338.0V565.0H1343.5V565.8H1349.0V565.9H1354.5V566.3H1360.0V566.2H1365.5V566.8H1371.0V566.4H1376.5V566.7H1382.0V567.7H1387.4V567.5H1392.9V567.3H1398.4V567.6H1403.9V567.6H1409.4V568.2H1414.9V567.9H1420.4V567.6H1425.9V568.5H1431.4V568.6H1436.8V568.3H1442.3V568.8H1447.8V568.7H1453.3V568.3H1458.8V568.4H1464.3V569.4H1469.8V569.0H1475.3V569.1H1480.8V569.5H1486.2V569.8H1491.7V569.7H1497.2V569.3H1502.7V569.5H1508.2V569.2H1513.7V569.4H1519.2V570.2H1524.7V570.1H1530.2V569.5H1535.7V570.1H1541.1V570.4H1546.6V570.3H1552.1V569.8H1557.6V569.9H1563.1V570.2H1568.6V569.9H1574.1V570.2H1579.6V570.2H1585.1V570.1H1590.5V570.3H1596.0V570.4H1601.5V570.1H1607.0V570.6H1612.5V570.2H1618.0V570.8H1623.5V570.8H1629.0V571.1H1634.5V570.8H1640.0V571.4H1645.4V571.3H1650.9V570.3H1656.4V571.2H1661.9V571.2H1667.4V571.3H1672.9V571.3H1678.4V570.9H1683.9V571.1H1689.4V571.5H1694.8V570.7H1700.3V571.6H1705.8V571.7H1711.3V571.0H1716.8V571.1H1722.3V571.1H1727.8V570.9H1733.3V571.4H1738.8V570.9H1744.3V571.3H1749.7V571.3H1755.2V571.0H1760.7V571.6H1766.2V571.5H1771.7V571.6H1777.2V571.7H1782.7V571.8H1788.2V571.2H1793.7V572.1H1799.1V571.7H1804.6V571.7H1810.1V571.6H1815.6V572.1H1821.1V571.8H1826.6V572.2H1832.1V572.2H1837.6V572.0H1843.1V572.2H1848.5V572.3" stroke="#59d454" stroke-width="6.2"/>
<path d="M1124.0,572.3V568.8H1129.4V562.7H1134.9V555.3H1140.4V540.4H1145.9V525.0H1151.4V511.0H1156.9V499.5H1162.4V496.4H1167.9V493.3H1173.4V495.0H1178.8V493.8H1184.3V495.6H1189.8V497.8H1195.3V494.8H1200.8V492.5H1206.3V496.5H1211.8V499.0H1217.3V503.5H1222.8V506.1H1228.2V508.9H1233.7V510.7H1239.2V515.3H1244.7V518.1H1250.2V518.9H1255.7V522.9H1261.2V524.4H1266.7V524.6H1272.2V528.0H1277.7V528.8H1283.1V528.6H1288.6V530.4H1294.1V531.6H1299.6V533.7H1305.1V536.1H1310.6V539.1H1316.1V539.9H1321.6V541.0H1327.1V542.9H1332.5V544.2H1338.0V544.5H1343.5V548.0H1349.0V549.0H1354.5V550.7H1360.0V551.8H1365.5V551.5H1371.0V552.6H1376.5V555.0H1382.0V556.1H1387.4V554.7H1392.9V556.5H1398.4V555.1H1403.9V555.3H1409.4V557.0H1414.9V558.0H1420.4V557.8H1425.9V556.7H1431.4V556.1H1436.8V556.3H1442.3V558.0H1447.8V557.9H1453.3V557.6H1458.8V558.5H1464.3V559.7H1469.8V558.5H1475.3V557.7H1480.8V559.2H1486.2V559.6H1491.7V559.2H1497.2V560.9H1502.7V560.2H1508.2V560.8H1513.7V561.5H1519.2V560.7H1524.7V560.2H1530.2V562.8H1535.7V562.7H1541.1V562.6H1546.6V563.2H1552.1V562.9H1557.6V562.8H1563.1V563.3H1568.6V564.4H1574.1V564.2H1579.6V563.4H1585.1V565.3H1590.5V565.6H1596.0V565.9H1601.5V566.2H1607.0V564.6H1612.5V564.6H1618.0V565.6H1623.5V566.1H1629.0V565.9H1634.5V565.2H1640.0V567.2H1645.4V567.8H1650.9V568.7H1656.4V567.1H1661.9V568.0H1667.4V568.3H1672.9V569.1H1678.4V569.6H1683.9V567.9H1689.4V568.9H1694.8V569.1H1700.3V570.1H1705.8V569.4H1711.3V568.3H1716.8V570.0H1722.3V569.9H1727.8V568.4H1733.3V571.2H1738.8V571.7H1744.3V569.3H1749.7V570.3H1755.2V570.3H1760.7V570.4H1766.2V570.3H1771.7V569.9H1777.2V571.9H1782.7V572.0H1788.2V571.3H1793.7V571.7H1799.1V570.8H1804.6V570.6H1810.1V570.2H1815.6V572.1H1821.1V571.3H1826.6V571.0H1832.1V571.5H1837.6V572.3H1843.1V572.3H1848.5V572.3" stroke="#00ffff" stroke-width="6.2"/>
</g>
<g id="arrows">
<path d="M556.3,516V560" stroke="#000" stroke-width="5.6" fill="none"/>
<path d="M543.6999999999999,556.3H568.9L556.3,578Z" fill="#000"/>
<path d="M1431.3,516V560" stroke="#000" stroke-width="5.6" fill="none"/>
<path d="M1418.7,556.3H1443.8999999999999L1431.3,578Z" fill="#000"/>
</g>
<g id="legendL">
<rect x="581" y="4.5" width="466.0999999999999" height="236.0" fill="#fff"/>
<path d="M579.4,4.5H1049.0M579.4,240.5H1049.0" fill="none" stroke="#000" stroke-width="3"/>
<path d="M581,3.0V242" fill="none" stroke="#000" stroke-width="3.2"/>
<path d="M1047.1,3.0V242" fill="none" stroke="#000" stroke-width="3.7"/>
<path d="M597.8,21.0H680.0" stroke="#0000ff" stroke-width="2.2"/>
<circle cx="638.8" cy="21.0" r="8.2"/>
<path d="M597.8,54.8H680.0" stroke="#000" stroke-width="8"/>
<path d="M597.8,88.5H680.0" stroke="#ff0000" stroke-width="5" stroke-dasharray="10.8 10.8"/>
<path d="M597.8,122.3H680.0" stroke="#ff0000" stroke-width="5.5" stroke-dasharray="72 36 3.6 36"/>
<path d="M597.8,156.1H680.0" stroke="#0000ff" stroke-width="5.5" stroke-dasharray="3.8 7"/>
<path d="M597.8,189.9H680.0" stroke="#0000ff" stroke-width="5.5" stroke-dasharray="18 10.8 3.6 10.8 3.6 10.8"/>
<path d="M597.8,223.6H680.0" stroke="#ff00ff" stroke-width="5.5" stroke-dasharray="18 10.8 3.6 10.8"/>
<rect x="637.0" y="87.2" width="3.6" height="2.6" fill="#000"/>
<rect x="637.0" y="121.0" width="3.6" height="2.6" fill="#000"/>
<rect x="637.0" y="154.8" width="3.6" height="2.6" fill="#000"/>
<rect x="637.0" y="188.6" width="3.6" height="2.6" fill="#000"/>
<rect x="637.0" y="222.3" width="3.6" height="2.6" fill="#000"/>
<g font-size="24.2">
<text x="696.4" y="27.7">Exp. data</text>
<text x="696.4" y="61.5">HIPSE all</text>
<text x="696.4" y="95.2">Primary</text>
<text y="129.0"><tspan x="696.4">Secondary</tspan><tspan x="822.6" font-style="italic">b</tspan><tspan x="836.9">&lt;3.0</tspan></text>
<text y="162.8"><tspan x="696.4">Secondary</tspan><tspan x="822.6" font-style="italic">b</tspan><tspan x="836.9">&gt;3.0 &amp;&amp;</tspan><tspan x="933.9" font-style="italic">b</tspan><tspan x="947.9">&lt;4.2</tspan></text>
<text y="196.6"><tspan x="696.4">Secondary</tspan><tspan x="822.6" font-style="italic">b</tspan><tspan x="836.9">&gt;4.2 &amp;&amp;</tspan><tspan x="933.9" font-style="italic">b</tspan><tspan x="947.9">&lt;5.2</tspan></text>
<text y="230.3"><tspan x="696.4">Secondary</tspan><tspan x="822.6" font-style="italic">b</tspan><tspan x="836.9">&gt;5.2 &amp;&amp;</tspan><tspan x="933.9" font-style="italic">b</tspan><tspan x="947.9">&lt;6.0</tspan></text>
</g></g>
<g id="legendR">
<rect x="1575" y="4.5" width="350.4000000000001" height="336.8" fill="#fff"/>
<path d="M1573.4,4.5H1927.3000000000002M1573.4,341.3H1927.3000000000002" fill="none" stroke="#000" stroke-width="3"/>
<path d="M1575,3.0V342.8" fill="none" stroke="#000" stroke-width="3.2"/>
<path d="M1925.4,3.0V342.8" fill="none" stroke="#000" stroke-width="3"/>
<path d="M1587.2,20.7H1648.6" stroke="#0000ff" stroke-width="2.2"/>
<circle cx="1617.6" cy="20.7" r="8.2"/>
<path d="M1587.2,54.5H1648.6" stroke="#000" stroke-width="5.5"/>
<path d="M1587.2,88.3H1648.6" stroke="#ff00ff" stroke-width="5.8" stroke-dasharray="10.8 10.8"/>
<rect x="1615.8" y="87.0" width="3.6" height="2.6" fill="#000"/>
<path d="M1587.2,122.0H1648.6" stroke="#59d454" stroke-width="5.8" stroke-dasharray="10.8 10.8"/>
<rect x="1615.8" y="120.7" width="3.6" height="2.6" fill="#000"/>
<path d="M1587.2,155.8H1648.6" stroke="#00ffff" stroke-width="5.8" stroke-dasharray="10.8 10.8"/>
<rect x="1615.8" y="154.5" width="3.6" height="2.6" fill="#000"/>
<path d="M1587.2,189.6H1648.6" stroke="#ff0000" stroke-width="5.8"/>
<rect x="1615.8" y="188.3" width="3.6" height="2.6" fill="#000"/>
<path d="M1587.2,223.4H1648.6" stroke="#0000ff" stroke-width="5.8"/>
<rect x="1615.8" y="222.1" width="3.6" height="2.6" fill="#000"/>
<path d="M1587.2,257.2H1648.6" stroke="#ff00ff" stroke-width="5.8"/>
<rect x="1615.8" y="255.9" width="3.6" height="2.6" fill="#000"/>
<path d="M1587.2,290.9H1648.6" stroke="#59d454" stroke-width="5.8"/>
<rect x="1615.8" y="289.6" width="3.6" height="2.6" fill="#000"/>
<path d="M1587.2,324.7H1648.6" stroke="#00ffff" stroke-width="5.8"/>
<rect x="1615.8" y="323.4" width="3.6" height="2.6" fill="#000"/>
<g font-size="24.2">
<text x="1660.8" y="27.4">Exp. data</text>
<text x="1660.8" y="61.2">Secondary All</text>
<text y="95.0"><tspan x="1660.8">Secondary</tspan><tspan x="1786.6" font-style="italic">Z</tspan><tspan x="1804">=5</tspan></text>
<text y="128.7"><tspan x="1660.8">Secondary</tspan><tspan x="1786.6" font-style="italic">Z</tspan><tspan x="1804">=6</tspan></text>
<text y="162.5"><tspan x="1660.8">Secondary</tspan><tspan x="1786.6" font-style="italic">Z</tspan><tspan x="1804">=7</tspan></text>
<text y="196.3"><tspan x="1660.8">Secondary</tspan><tspan x="1786.6" font-style="italic">Z</tspan><tspan x="1804">=8</tspan></text>
<text y="230.1"><tspan x="1660.8">Secondary</tspan><tspan x="1786.6" font-style="italic">Z</tspan><tspan x="1804">=9</tspan></text>
<text y="263.9"><tspan x="1660.8">Secondary</tspan><tspan x="1786.6" font-style="italic">Z</tspan><tspan x="1804">=10</tspan></text>
<text y="297.6"><tspan x="1660.8">Secondary</tspan><tspan x="1786.6" font-style="italic">Z</tspan><tspan x="1804">=11</tspan></text>
<text y="331.4"><tspan x="1660.8">Secondary</tspan><tspan x="1786.6" font-style="italic">Z</tspan><tspan x="1804">=12</tspan></text>
</g></g>
</svg>
</body></html>
